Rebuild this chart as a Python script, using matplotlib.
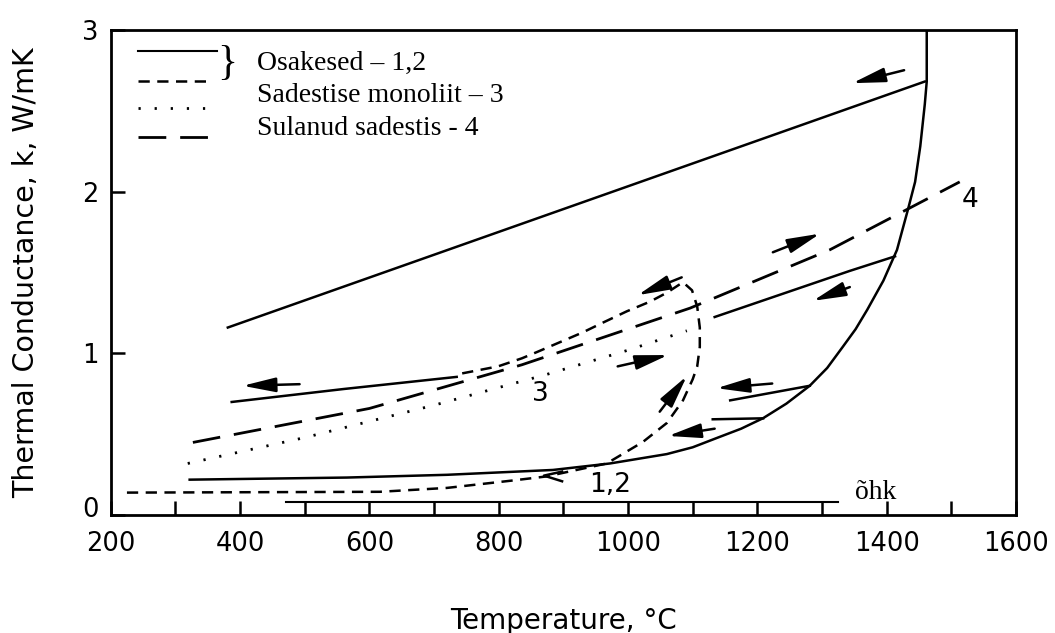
import numpy as np
import matplotlib
matplotlib.use("Agg")
from matplotlib import pyplot as plt
from matplotlib.transforms import ScaledTranslation

# Osakesed 1 (solid)
top_T = [381, 1459]
top_k = [1.16, 2.68]

melt_T = [322, 565, 720, 884, 972, 1060, 1100, 1137, 1175, 1209, 1245, 1281, 1308, 1332, 1352, 1370,
          1395, 1416, 1433, 1444, 1452, 1459, 1462, 1462]
melt_k = [0.22, 0.233, 0.25, 0.28, 0.32, 0.378, 0.42, 0.477, 0.535, 0.60, 0.69, 0.80, 0.91, 1.04, 1.15, 1.27,
          1.45, 1.64, 1.89, 2.06, 2.28, 2.54, 2.68, 3.0]

mid_T = [387, 560, 735]
mid_k = [0.70, 0.78, 0.855]

upper_T = [1134, 1343, 1413]
upper_k = [1.225, 1.51, 1.60]

cool1_T = [1158, 1281]
cool1_k = [0.71, 0.80]
cool2_T = [1131, 1209]
cool2_k = [0.593, 0.599]

# Osakesed 2 (short dash) - bottom branch, rise, loop, return branch
loop_T = [225, 616, 720, 822, 874, 967, 1023, 1060, 1085, 1100, 1107, 1111, 1111, 1107, 1099, 1085,
          1060, 1034, 998, 961, 930, 895, 860, 836, 799, 735]
loop_k = [0.14, 0.145, 0.169, 0.215, 0.24, 0.32, 0.453, 0.57, 0.71, 0.84, 0.92, 1.04, 1.16, 1.29, 1.39, 1.44,
          1.375, 1.32, 1.26, 1.19, 1.13, 1.07, 1.01, 0.97, 0.92, 0.87]

# Sadestise monoliit 3 (dotted)
mono_T = [319, 500, 700, 874, 1000, 1091]
mono_k = [0.32, 0.48, 0.68, 0.87, 1.02, 1.14]

# Sulanud sadestis 4 (long dash)
melted_T = [327, 600, 836, 1096, 1312, 1513]
melted_k = [0.45, 0.66, 0.93, 1.28, 1.64, 2.06]

# air
air_T = [471, 1325]
air_k = [0.08, 0.08]

# arrows: (tail T, tail k, head T, head k)
arrows = [
    (1427, 2.75, 1347, 2.67),
    (492, 0.81, 404, 0.80),
    (1224, 1.625, 1297, 1.74),
    (1343, 1.41, 1286, 1.325),
    (1083, 1.47, 1015, 1.36),
    (984, 0.92, 1062, 0.99),
    (1049, 0.64, 1091, 0.86),
    (1223, 0.814, 1137, 0.785),
    (1134, 0.535, 1062, 0.49),
]

legend_labels = ["Osakesed – 1,2", "Sadestise monoliit – 3", "Sulanud sadestis - 4"]

fig = plt.figure(figsize=(10.55, 6.33), dpi=100)
ax = fig.add_axes([0.105, 0.186, 0.858, 0.767])

lw = 1.8
ax.plot(top_T, top_k, 'k-', lw=lw)
ax.plot(melt_T, melt_k, 'k-', lw=lw)
ax.plot(mid_T, mid_k, 'k-', lw=lw)
ax.plot(upper_T, upper_k, 'k-', lw=lw)
ax.plot(cool1_T, cool1_k, 'k-', lw=lw)
ax.plot(cool2_T, cool2_k, 'k-', lw=lw)
ax.plot(loop_T, loop_k, 'k', lw=lw, ls=(0, (4.5, 3)))
ax.plot(mono_T, mono_k, 'k', lw=2, ls=(0, (0.8, 5)))
ax.plot(melted_T, melted_k, 'k', lw=2, ls=(0, (10, 5)))
ax.plot(air_T, air_k, 'k-', lw=1.5)

for t0, k0, t1, k1 in arrows:
    ax.annotate('', xy=(t1, k1), xytext=(t0, k0),
                arrowprops=dict(arrowstyle='-|>,head_length=1.0,head_width=0.22',
                                color='k', lw=1.8, mutation_scale=20, shrinkA=0, shrinkB=0))

# leader of the 1,2 label
ax.plot([898, 870, 898], [0.27, 0.245, 0.21], 'k-', lw=1.8)

stencil = 'DejaVu Sans'
ax.text(864, 0.75, '3', fontsize=19, family=stencil, ha='center', va='center')
ax.text(1529, 1.95, '4', fontsize=19, family=stencil, ha='center', va='center')
ax.text(972, 0.19, '1,2', fontsize=19, family=stencil, ha='center', va='center')
ax.text(1383, 0.14, 'õhk', fontsize=20, family='Liberation Serif', ha='center', va='center')

# hand-drawn style legend
ax.plot([0.030, 0.117], [0.957, 0.957], 'k-', lw=1.5, transform=ax.transAxes)
ax.plot([0.030, 0.112], [0.895, 0.895], 'k', lw=1.8, ls=(0, (4.5, 3)), transform=ax.transAxes)
ax.plot([0.030, 0.112], [0.838, 0.838], 'k', lw=2, ls=(0, (0.8, 5)), transform=ax.transAxes)
ax.plot([0.030, 0.118], [0.780, 0.780], 'k', lw=2, ls=(0, (10, 5)), transform=ax.transAxes)
ax.text(0.129, 0.930, '}', fontsize=30, family='Liberation Serif', ha='center', va='center',
        transform=ax.transAxes)
for lab, yy in zip(legend_labels, [0.930, 0.864, 0.797]):
    ax.text(0.161, yy, lab, fontsize=20, family='Liberation Serif', ha='left', va='center',
            transform=ax.transAxes)

ax.set_xlim(200, 1600)
ax.set_ylim(0, 3)
ax.set_xticks(np.arange(200, 1601, 200))
ax.set_xticks(np.arange(300, 1600, 200), minor=True)
ax.set_yticks([0, 1, 2, 3])
ax.tick_params(which='both', direction='in', length=10, width=1.8, labelsize=18.5)
ax.tick_params(axis='x', pad=11)
ax.tick_params(axis='y', pad=9)
for lab in ax.get_xticklabels() + ax.get_yticklabels():
    lab.set_family(stencil)
# the zero of the k axis sits a little above the corner, as in the scan
zero_lab = ax.get_yticklabels()[0]
zero_lab.set_transform(zero_lab.get_transform() + ScaledTranslation(0, 6 / 72, fig.dpi_scale_trans))
for s in ax.spines.values():
    s.set_linewidth(2)

ax.set_xlabel('Temperature, °C', fontsize=20, family=stencil, labelpad=36)
ax.set_ylabel('Thermal Conductance, k, W/mK', fontsize=20.5, family=stencil, labelpad=30)

fig.savefig('out.png', dpi=100)
